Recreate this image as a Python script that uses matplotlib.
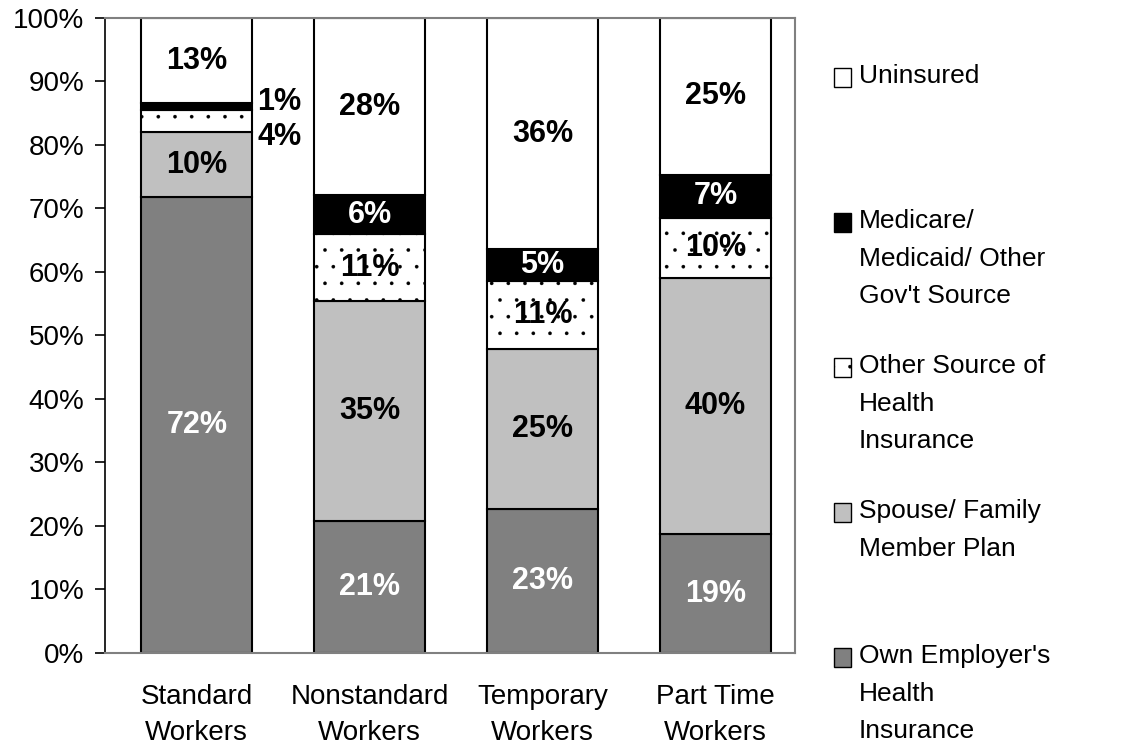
import matplotlib.pyplot as plt
import numpy as np
from matplotlib.patches import Rectangle

plt.rcParams["font.family"] = ["Liberation Sans", "DejaVu Sans"]
plt.rcParams["hatch.linewidth"] = 0.2
plt.rcParams["hatch.color"] = "#606060"

categories = ["Standard\nWorkers", "Nonstandard\nWorkers", "Temporary\nWorkers", "Part Time\nWorkers"]

own_employer = [71.8, 20.8, 22.7, 18.7]
spouse_family = [10.2, 34.6, 25.2, 40.3]
other_source = [3.5, 10.6, 10.7, 9.5]
gov_source = [1.1, 6.1, 5.0, 6.8]
uninsured = [13.4, 27.9, 36.4, 24.7]

series_names = [
    "Own Employer's\nHealth\nInsurance",
    "Spouse/ Family\nMember Plan",
    "Other Source of\nHealth\nInsurance",
    "Medicare/\nMedicaid/ Other\nGov't Source",
    "Uninsured",
]

series = [own_employer, spouse_family, other_source, gov_source, uninsured]
fills = ["#808080", "#c0c0c0", "white", "black", "white"]
hatches = [None, None, ".", None, None]
text_colors = ["white", "black", "black", "white", "black"]

fig = plt.figure(figsize=(11.43, 7.46), dpi=100)
ax = fig.add_axes([0.092, 0.1247, 0.6035, 0.8512])

x = np.arange(len(categories))
width = 0.64
bottom = np.zeros(len(categories))
for vals, fc, hatch, tc in zip(series, fills, hatches, text_colors):
    vals = np.array(vals)
    ax.bar(x, vals, width, bottom=bottom, color=fc, edgecolor="black",
           linewidth=1.5, hatch=hatch, zorder=2)
    for i, (v, b) in enumerate(zip(vals, bottom)):
        if i == 0 and v < 5:
            continue
        ax.text(x[i], b + v / 2, f"{v:.0f}%", ha="center", va="center",
                color=tc, fontsize=22, fontweight="bold", zorder=3)
    bottom = bottom + vals

# small Standard Workers segments labelled beside the bar
base = own_employer[0] + spouse_family[0]
ax.text(x[0] + width / 2 + 0.03, base + other_source[0] + gov_source[0] + 0.2,
        f"{gov_source[0]:.0f}%", ha="left", va="center",
        fontsize=22, fontweight="bold")
ax.text(x[0] + width / 2 + 0.03, base - 0.8,
        f"{other_source[0]:.0f}%", ha="left", va="center",
        fontsize=22, fontweight="bold")

ax.set_xlim(-0.53, 3.46)
ax.set_ylim(0, 100)
ax.set_yticks(np.arange(0, 101, 10))
ax.set_yticklabels([f"{t}%" for t in range(0, 101, 10)], fontsize=20)
ax.set_xticks(x)
ax.set_xticklabels(categories, fontsize=20, linespacing=1.5)
ax.tick_params(axis="x", length=0, pad=22)
ax.tick_params(axis="y", length=7, width=1.2, pad=8)

for side in ["top", "right", "bottom"]:
    ax.spines[side].set_color("#808080")
    ax.spines[side].set_linewidth(1.5)
ax.spines["left"].set_color("black")
ax.spines["left"].set_linewidth(1.2)

# legend, top entry first
W, H = fig.get_size_inches() * fig.dpi
legend_order = list(range(len(series)))[::-1]
for k, idx in enumerate(legend_order):
    y_top = 67 + 145 * k
    fig.add_artist(Rectangle((834 / W, 1 - (y_top + 20) / H), 17 / W, 19 / H,
                             transform=fig.transFigure, facecolor=fills[idx],
                             edgecolor="black", linewidth=1.0,
                             hatch=("." if hatches[idx] else None)))
    fig.text(859 / W, 1 - (y_top - 3) / H, series_names[idx], ha="left",
             va="top", fontsize=19, linespacing=1.72)

fig.savefig("out.png", dpi=100)
